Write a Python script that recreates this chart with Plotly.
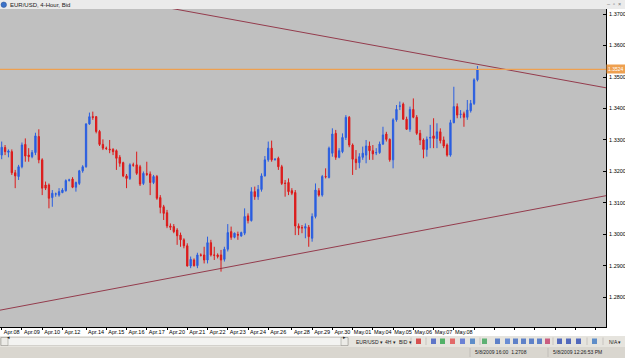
import plotly.graph_objects as go

# ---------------- data (EUR/USD, 4-Hour, Bid) ----------------
opens = [1.3252,1.3276,1.3261,1.3263,1.3196,1.3184,1.3215,1.3286,1.3252,1.3247,
         1.3260,1.3311,1.3237,1.3157,1.3157,1.3117,1.3128,1.3125,1.3133,1.3139,
         1.3172,1.3176,1.3150,1.3162,1.3202,1.3215,1.3351,1.3374,1.3374,1.3327,
         1.3286,1.3274,1.3271,1.3270,1.3266,1.3245,1.3228,1.3186,1.3178,1.3221,
         1.3221,1.3215,1.3162,1.3193,1.3192,1.3165,1.3184,1.3117,1.3088,1.3069,
         1.3027,1.3025,1.3014,1.2998,1.2983,1.2964,1.2900,1.2919,1.2901,1.2935,
         1.2935,1.2919,1.2974,1.2935,1.2935,1.2935,1.2921,1.2953,1.3009,1.2991,
         1.3000,1.2995,1.3004,1.3059,1.3044,1.3136,1.3120,1.3143,1.3186,1.3237,
         1.3274,1.3238,1.3242,1.3215,1.3163,1.3165,1.3139,1.3133,1.3027,1.3022,
         1.3020,1.3023,1.2988,1.3057,1.3139,1.3125,1.3184,1.3181,1.3258,1.3321,
         1.3245,1.3263,1.3308,1.3372,1.3284,1.3239,1.3228,1.3245,1.3252,1.3281,
         1.3266,1.3259,1.3260,1.3287,1.3319,1.3302,1.3237,1.3364,1.3407,1.3414,
         1.3366,1.3334,1.3397,1.3372,1.3321,1.3300,1.3270,1.3306,1.3313,1.3305,
         1.3326,1.3300,1.3284,1.3252,1.3355,1.3406,1.3381,1.3383,1.3372,1.3393,
         1.3416,1.3491]
highs = [1.3295,1.3284,1.3270,1.3270,1.3205,1.3221,1.3292,1.3305,1.3274,1.3268,
         1.3323,1.3334,1.3242,1.3168,1.3162,1.3141,1.3133,1.3147,1.3147,1.3175,
         1.3177,1.3182,1.3168,1.3205,1.3220,1.3353,1.3387,1.3390,1.3376,1.3332,
         1.3302,1.3279,1.3300,1.3274,1.3270,1.3252,1.3231,1.3192,1.3226,1.3228,
         1.3263,1.3221,1.3200,1.3231,1.3200,1.3189,1.3189,1.3125,1.3094,1.3078,
         1.3035,1.3033,1.3020,1.3006,1.2988,1.2972,1.2930,1.2924,1.2942,1.2940,
         1.2961,1.2993,1.2983,1.2961,1.2940,1.2951,1.2961,1.3033,1.3025,1.3006,
         1.3009,1.3009,1.3083,1.3067,1.3150,1.3152,1.3157,1.3194,1.3249,1.3295,
         1.3298,1.3242,1.3247,1.3221,1.3173,1.3178,1.3147,1.3141,1.3035,1.3030,
         1.3035,1.3030,1.3067,1.3162,1.3147,1.3189,1.3210,1.3279,1.3337,1.3332,
         1.3274,1.3321,1.3379,1.3376,1.3289,1.3268,1.3258,1.3279,1.3300,1.3295,
         1.3284,1.3274,1.3295,1.3342,1.3326,1.3305,1.3369,1.3411,1.3422,1.3419,
         1.3374,1.3406,1.3432,1.3379,1.3332,1.3305,1.3311,1.3348,1.3369,1.3353,
         1.3337,1.3311,1.3289,1.3364,1.3469,1.3416,1.3395,1.3390,1.3427,1.3427,
         1.3496,1.3535]
lows = [1.3239,1.3252,1.3245,1.3189,1.3147,1.3173,1.3210,1.3231,1.3231,1.3242,
        1.3252,1.3226,1.3125,1.3141,1.3083,1.3088,1.3120,1.3120,1.3131,1.3136,
        1.3168,1.3147,1.3136,1.3157,1.3196,1.3212,1.3348,1.3364,1.3321,1.3281,
        1.3268,1.3268,1.3258,1.3252,1.3205,1.3215,1.3182,1.3147,1.3173,1.3215,
        1.3189,1.3154,1.3157,1.3186,1.3125,1.3160,1.3110,1.3067,1.3046,1.3020,
        1.3014,1.3004,1.2967,1.2961,1.2956,1.2898,1.2893,1.2898,1.2893,1.2930,
        1.2908,1.2908,1.2930,1.2919,1.2924,1.2882,1.2914,1.2946,1.2983,1.2988,
        1.2983,1.2993,1.2998,1.3035,1.3041,1.3110,1.3110,1.3136,1.3184,1.3231,
        1.3231,1.3234,1.3205,1.3157,1.3120,1.3125,1.3125,1.2998,1.2998,1.3004,
        1.2988,1.2961,1.2977,1.3051,1.3120,1.3120,1.3178,1.3178,1.3247,1.3237,
        1.3242,1.3258,1.3300,1.3277,1.3189,1.3205,1.3210,1.3237,1.3226,1.3237,
        1.3237,1.3252,1.3256,1.3284,1.3295,1.3231,1.3210,1.3358,1.3395,1.3364,
        1.3332,1.3326,1.3369,1.3316,1.3284,1.3242,1.3247,1.3274,1.3274,1.3274,
        1.3289,1.3274,1.3247,1.3247,1.3353,1.3369,1.3369,1.3342,1.3364,1.3387,
        1.3411,1.3486]
closes = [1.3277,1.3263,1.3265,1.3196,1.3186,1.3215,1.3284,1.3249,1.3247,1.3260,
          1.3313,1.3237,1.3147,1.3147,1.3115,1.3131,1.3129,1.3136,1.3141,1.3171,
          1.3173,1.3150,1.3165,1.3202,1.3215,1.3351,1.3374,1.3372,1.3327,1.3286,
          1.3274,1.3273,1.3269,1.3263,1.3242,1.3226,1.3186,1.3178,1.3221,1.3220,
          1.3194,1.3160,1.3194,1.3191,1.3165,1.3184,1.3115,1.3086,1.3067,1.3027,
          1.3023,1.3009,1.2996,1.2983,1.2964,1.2900,1.2921,1.2901,1.2935,1.2934,
          1.2919,1.2974,1.2935,1.2934,1.2930,1.2919,1.2953,1.3006,1.2991,1.3004,
          1.2998,1.3006,1.3057,1.3044,1.3136,1.3120,1.3143,1.3186,1.3237,1.3274,
          1.3237,1.3239,1.3215,1.3162,1.3162,1.3136,1.3131,1.3027,1.3020,1.3021,
          1.3025,1.2993,1.3057,1.3141,1.3125,1.3184,1.3183,1.3274,1.3319,1.3245,
          1.3266,1.3308,1.3372,1.3284,1.3239,1.3228,1.3247,1.3258,1.3281,1.3266,
          1.3256,1.3260,1.3287,1.3316,1.3302,1.3237,1.3364,1.3397,1.3408,1.3366,
          1.3334,1.3397,1.3372,1.3321,1.3300,1.3270,1.3302,1.3308,1.3305,1.3326,
          1.3298,1.3281,1.3252,1.3355,1.3406,1.3379,1.3382,1.3372,1.3395,1.3416,
          1.3491,1.3524]
bars = list(range(len(closes)))

# date ticks (bar index of first bar of each labelled day)
tick_bars = [0, 6, 12, 18, 25, 31, 37, 43, 49, 55, 61, 67, 73, 79, 86, 92, 98,
             104, 110, 116, 122, 128, 134, 140, 146, 152, 158, 164, 170, 176]
tick_text = ["Apr.08", "Apr.09", "Apr.10", "Apr.12", "Apr.14", "Apr.15", "Apr.16",
             "Apr.17", "Apr.20", "Apr.21", "Apr.22", "Apr.23", "Apr.24", "Apr.26",
             "Apr.28", "Apr.29", "Apr.30", "May.01", "May.04", "May.05", "May.06",
             "May.07", "May.08", "", "", "", "", "", "", ""]

price_ticks = [1.28, 1.29, 1.30, 1.31, 1.32, 1.33, 1.34, 1.35, 1.36, 1.37]
price_labels = ["1.2800", "1.2900", "1.3000", "1.3100", "1.3200", "1.3300",
                "1.3400", "1.3500", "1.3600", "1.3700"]

# trend lines (bar index, price)
upper_x = [40, 179.1]
upper_y = [1.3738, 1.34657]
lower_x = [-0.504, 179.1]
lower_y = [1.27596, 1.31231]

x_range = [-0.504, 179.1]
y_range = [1.27062, 1.37159]

BLUE = "#2a5ee0"
RED = "#dc1a1a"
TREND = "#8e2c40"
ORANGE = "#eea050"
FONT = "Liberation Sans"

fig = go.Figure()

fig.add_trace(go.Scatter(x=upper_x, y=upper_y, mode="lines",
                         line=dict(color=TREND, width=0.9), hoverinfo="skip",
                         showlegend=False))
fig.add_trace(go.Scatter(x=lower_x, y=lower_y, mode="lines",
                         line=dict(color=TREND, width=0.9), hoverinfo="skip",
                         showlegend=False))
fig.add_trace(go.Scatter(x=x_range, y=[closes[-1], closes[-1]], mode="lines",
                         line=dict(color=ORANGE, width=1.3), hoverinfo="skip",
                         showlegend=False))

fig.add_trace(go.Candlestick(
    x=bars, open=opens, high=highs, low=lows, close=closes,
    increasing=dict(line=dict(color=BLUE, width=1), fillcolor=BLUE),
    decreasing=dict(line=dict(color=RED, width=1), fillcolor=RED),
    whiskerwidth=0, showlegend=False, hoverinfo="skip"))

W_PLOT = 606.0
H_PLOT = 318.0
TOP = 9.0


def px(x):
    return x / W_PLOT


def py(y):
    return (TOP + H_PLOT - y) / H_PLOT


shapes = []
annotations = []

# window title bar
shapes.append(dict(type="rect", xref="paper", yref="paper", x0=px(0), x1=px(625),
                   y0=py(9), y1=py(0), fillcolor="#ebebeb", line=dict(width=0),
                   layer="above"))
shapes.append(dict(type="circle", xref="paper", yref="paper", x0=px(1), x1=px(6.5),
                   y0=py(7.5), y1=py(2), fillcolor="#3b72c9",
                   line=dict(color="#2a4f90", width=0.5), layer="above"))
annotations.append(dict(text="EUR/USD, 4-Hour, Bid", xref="paper", yref="paper",
                        x=px(8), y=py(4.6), xanchor="left", yanchor="middle",
                        showarrow=False, font=dict(family=FONT, size=6, color="#202020")))
annotations.append(dict(text="–  ▫  ×", xref="paper", yref="paper",
                        x=px(623), y=py(4.4), xanchor="right", yanchor="middle",
                        showarrow=False, font=dict(family=FONT, size=5.5, color="#707070")))

# toolbar & status bar
shapes.append(dict(type="rect", xref="paper", yref="paper", x0=px(0), x1=px(625),
                   y0=py(347), y1=py(336), fillcolor="#e6e4de", line=dict(width=0),
                   layer="above"))
shapes.append(dict(type="rect", xref="paper", yref="paper", x0=px(0), x1=px(625),
                   y0=py(358), y1=py(347), fillcolor="#d9d6cf", line=dict(width=0),
                   layer="above"))
shapes.append(dict(type="rect", xref="paper", yref="paper", x0=px(0.5), x1=px(348),
                   y0=py(345.5), y1=py(337.5), fillcolor="#f3f3f1",
                   line=dict(color="#b8b6b0", width=0.5), layer="above"))
for bx0, bx1, sym in [(1, 8, "◂"), (341, 348, "▸")]:
    shapes.append(dict(type="rect", xref="paper", yref="paper", x0=px(bx0), x1=px(bx1),
                       y0=py(345.5), y1=py(337.5), fillcolor="#ecebe7",
                       line=dict(color="#8a8883", width=0.5), layer="above"))
    annotations.append(dict(text=sym, xref="paper", yref="paper",
                            x=px((bx0 + bx1) / 2), y=py(341.5), showarrow=False,
                            font=dict(family=FONT, size=4.5, color="#202020")))
for txt, xx in [("EUR/USD ▾", 354), ("4H ▾", 383), ("BID ▾", 397), ("N/A ▾", 607)]:
    annotations.append(dict(text=txt, xref="paper", yref="paper", x=px(xx), y=py(341.5),
                            xanchor="left", yanchor="middle", showarrow=False,
                            font=dict(family=FONT, size=5, color="#202020")))
icon_cols = ["#d02020", "#3050c0", "#20a040", "#e04040", "#4060d0", "#3070c0",
             "#30a050", "#3060c0", "#4070d0", "#3060c0", "#3060c0", "#3060c0",
             "#3060c0", "#c03060", "#2040b0", "#2040b0", "#2040b0", "#3070c0"]
icon_x = [416, 431, 440, 450, 460, 470, 482, 495, 505, 513, 521, 529, 537, 545,
          557, 566, 576, 592]
for ix, col in zip(icon_x, icon_cols):
    shapes.append(dict(type="rect", xref="paper", yref="paper", x0=px(ix), x1=px(ix + 5),
                       y0=py(344), y1=py(338.5), fillcolor=col,
                       line=dict(width=0), opacity=0.75, layer="above"))
for sx in [411, 426, 480, 553, 587, 603]:
    shapes.append(dict(type="line", xref="paper", yref="paper", x0=px(sx), x1=px(sx),
                       y0=py(345), y1=py(337.5), line=dict(color="#a8a6a0", width=0.5),
                       layer="above"))
for sx in [470, 548]:
    shapes.append(dict(type="line", xref="paper", yref="paper", x0=px(sx), x1=px(sx),
                       y0=py(357), y1=py(348), line=dict(color="#a8a6a0", width=0.5),
                       layer="above"))
annotations.append(dict(text="5/8/2009 16:00  1.2708", xref="paper", yref="paper",
                        x=px(473), y=py(352.3), xanchor="left", yanchor="middle",
                        showarrow=False, font=dict(family=FONT, size=5, color="#202020")))
annotations.append(dict(text="5/8/2009 12:26:53 PM", xref="paper", yref="paper",
                        x=px(551), y=py(352.3), xanchor="left", yanchor="middle",
                        showarrow=False, font=dict(family=FONT, size=5, color="#202020")))

# bid price label
annotations.append(dict(text=f"{closes[-1]:.4f}", xref="paper", yref="y",
                        x=1.0, y=closes[-1], xanchor="left", yanchor="middle",
                        showarrow=False, bgcolor=ORANGE, borderpad=1,
                        font=dict(family=FONT, size=5, color="white")))

fig.update_layout(
    width=625, height=358, autosize=False,
    margin=dict(l=0, r=19, t=9, b=31, pad=0),
    paper_bgcolor="white", plot_bgcolor="#c0c0c0",
    boxgap=0.45,
    showlegend=False,
    shapes=shapes, annotations=annotations,
    xaxis=dict(range=x_range, tickmode="array", tickvals=tick_bars, ticktext=tick_text,
               showgrid=False, zeroline=False, showline=True, linecolor="#000000",
               linewidth=1, ticks="outside", ticklen=2, tickcolor="#000000",
               tickfont=dict(family=FONT, size=5.5, color="#000000"),
               ticklabelshift=10, ticklabelstandoff=-3,
               rangeslider=dict(visible=False), fixedrange=True),
    yaxis=dict(range=y_range, side="right", tickmode="array", tickvals=price_ticks,
               ticktext=price_labels, showgrid=False, zeroline=False, showline=True,
               linecolor="#000000", linewidth=1, ticks="inside", ticklen=3,
               tickcolor="#000000", tickfont=dict(family=FONT, size=5.5, color="#000000"),
               ticklabelstandoff=1, fixedrange=True),
)

fig.write_html("out.html")
